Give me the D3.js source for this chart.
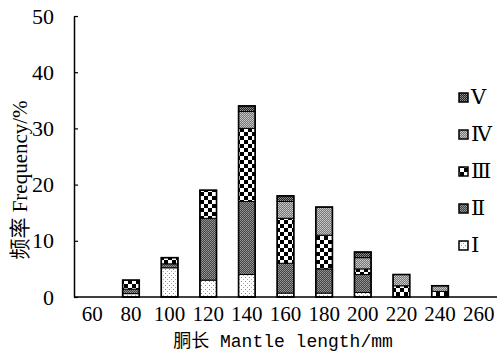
<!DOCTYPE html>
<html><head><meta charset="utf-8">
<script src="https://cdn.jsdelivr.net/npm/d3@7"></script>
<style>body{margin:0;background:#fff}svg{display:block}</style>
</head><body><svg id="c" width="497" height="358"></svg>
<script>
const lengths = [60,80,100,120,140,160,180,200,220,240,260];
const stageI   = [0,0.6,5.2,3,4,0.7,0.7,0.8,0,0,0];
const stageII  = [0,0.8,0.7,11,13,5.3,4.3,3.2,0,0,0];
const stageIII = [0,1.6,1.1,5,13,8,6,1,2,1,0];
const stageIV  = [0,0,0,0,3,3,5,2,2,1,0];
const stageV   = [0,0,0,0,1,1,0,1,0,0,0];
const stageNames = ["Ⅰ","Ⅱ","Ⅲ","Ⅳ","Ⅴ"];
const yTicks = [0,10,20,30,40,50];

const svg = d3.select("#c");
const defs = svg.append("defs");
function pat(id,w,h,bg,cells){
  const p = defs.append("pattern").attr("id",id).attr("patternUnits","userSpaceOnUse").attr("width",w).attr("height",h);
  p.append("rect").attr("width",w).attr("height",h).attr("fill",bg);
  cells.forEach(c=>p.append("rect").attr("x",c[0]).attr("y",c[1]).attr("width",c[2]).attr("height",c[3]).attr("fill",c[4]));
}
pat("pI",4,4,"#fff",[[1,1,1,1,"#888"],[3,3,1,1,"#aaa"]]);
pat("pII",2,2,"#444",[[0,0,1,1,"#999"],[1,1,1,1,"#888"]]);
pat("pIII",8,8,"#fff",[[0,0,4,4,"#000"],[4,4,4,4,"#000"]]);
pat("pIV",2,2,"#777",[[0,0,1,1,"#ccc"],[1,1,1,1,"#bbb"]]);
pat("pV",2,2,"#222",[[0,0,1,1,"#999"],[1,1,1,1,"#777"]]);
const fills = ["url(#pI)","url(#pII)","url(#pIII)","url(#pIV)","url(#pV)"];

const x = d3.scaleBand().domain(lengths).range([73,498]).paddingInner(0.57).paddingOuter(0.285);
const y = d3.scaleLinear().domain([0,50]).range([297,16]);

const rows = lengths.map((l,i)=>({len:l,I:stageI[i],II:stageII[i],III:stageIII[i],IV:stageIV[i],V:stageV[i]}));
const keys = ["I","II","III","IV","V"];
const stacked = d3.stack().keys(keys)(rows);
const total = d=>keys.reduce((a,k)=>a+d[k],0);

const g = svg.append("g");
stacked.forEach((s,k)=>{
  g.selectAll(null).data(s.filter(d=>d[1]-d[0]>0)).enter().append("rect")
    .attr("x",d=>x(d.data.len)).attr("width",x.bandwidth())
    .attr("y",d=>y(d[1])).attr("height",d=>y(d[0])-y(d[1]))
    .attr("fill",fills[k]).attr("stroke","#000").attr("stroke-width",1);
});
g.selectAll(null).data(rows.filter(r=>total(r)>0)).enter().append("rect")
  .attr("x",d=>x(d.len)).attr("width",x.bandwidth())
  .attr("y",d=>y(total(d))).attr("height",d=>y(0)-y(total(d)))
  .attr("fill","none").attr("stroke","#000").attr("stroke-width",1.6);

// y axis
const ya = svg.append("g").attr("transform","translate(74,0)")
  .call(d3.axisLeft(y).tickValues(yTicks).tickSizeInner(-4).tickSizeOuter(0).tickPadding(20));
ya.select(".domain").attr("stroke","#000").attr("stroke-width",1.5);
ya.selectAll("line").attr("stroke","#000").attr("stroke-width",1.2);
ya.selectAll("text").attr("font-family","Liberation Serif").attr("font-size",22).attr("fill","#000");

// x axis
const xa = svg.append("g").attr("transform","translate(0,297)")
  .call(d3.axisBottom(x).tickSize(0).tickPadding(9));
xa.select(".domain").attr("d","M74,0H497").attr("stroke","#000").attr("stroke-width",1.5);
xa.selectAll("text").attr("font-family","Liberation Serif").attr("font-size",21).attr("fill","#000");

// axis titles
svg.append("text").attr("transform","translate(27,180) rotate(-90)").attr("text-anchor","middle")
  .attr("font-size",21).attr("fill","#000")
  .html('<tspan font-family="Noto Sans CJK SC">频率</tspan><tspan font-family="Liberation Serif"> Frequency/%</tspan>');
svg.append("text").attr("x",283).attr("y",347).attr("text-anchor","middle")
  .attr("font-size",18).attr("fill","#000")
  .html('<tspan font-family="Noto Sans CJK SC">胴长</tspan><tspan font-family="Liberation Mono"> Mantle length/mm</tspan>');

// legend
const legY = [252,215,178,141,104];
const lg = svg.append("g");
keys.forEach((k,i)=>{
  lg.append("rect").attr("x",459).attr("y",legY[i]-11).attr("width",9).attr("height",9)
    .attr("fill",fills[i]).attr("stroke","#000").attr("stroke-width",1.5);
  lg.append("text").attr("x",471).attr("y",legY[i]).attr("font-family","DejaVu Serif, Noto Sans CJK SC")
    .attr("font-size",21).attr("fill","#000").text(stageNames[i]);
});
</script></body></html>
